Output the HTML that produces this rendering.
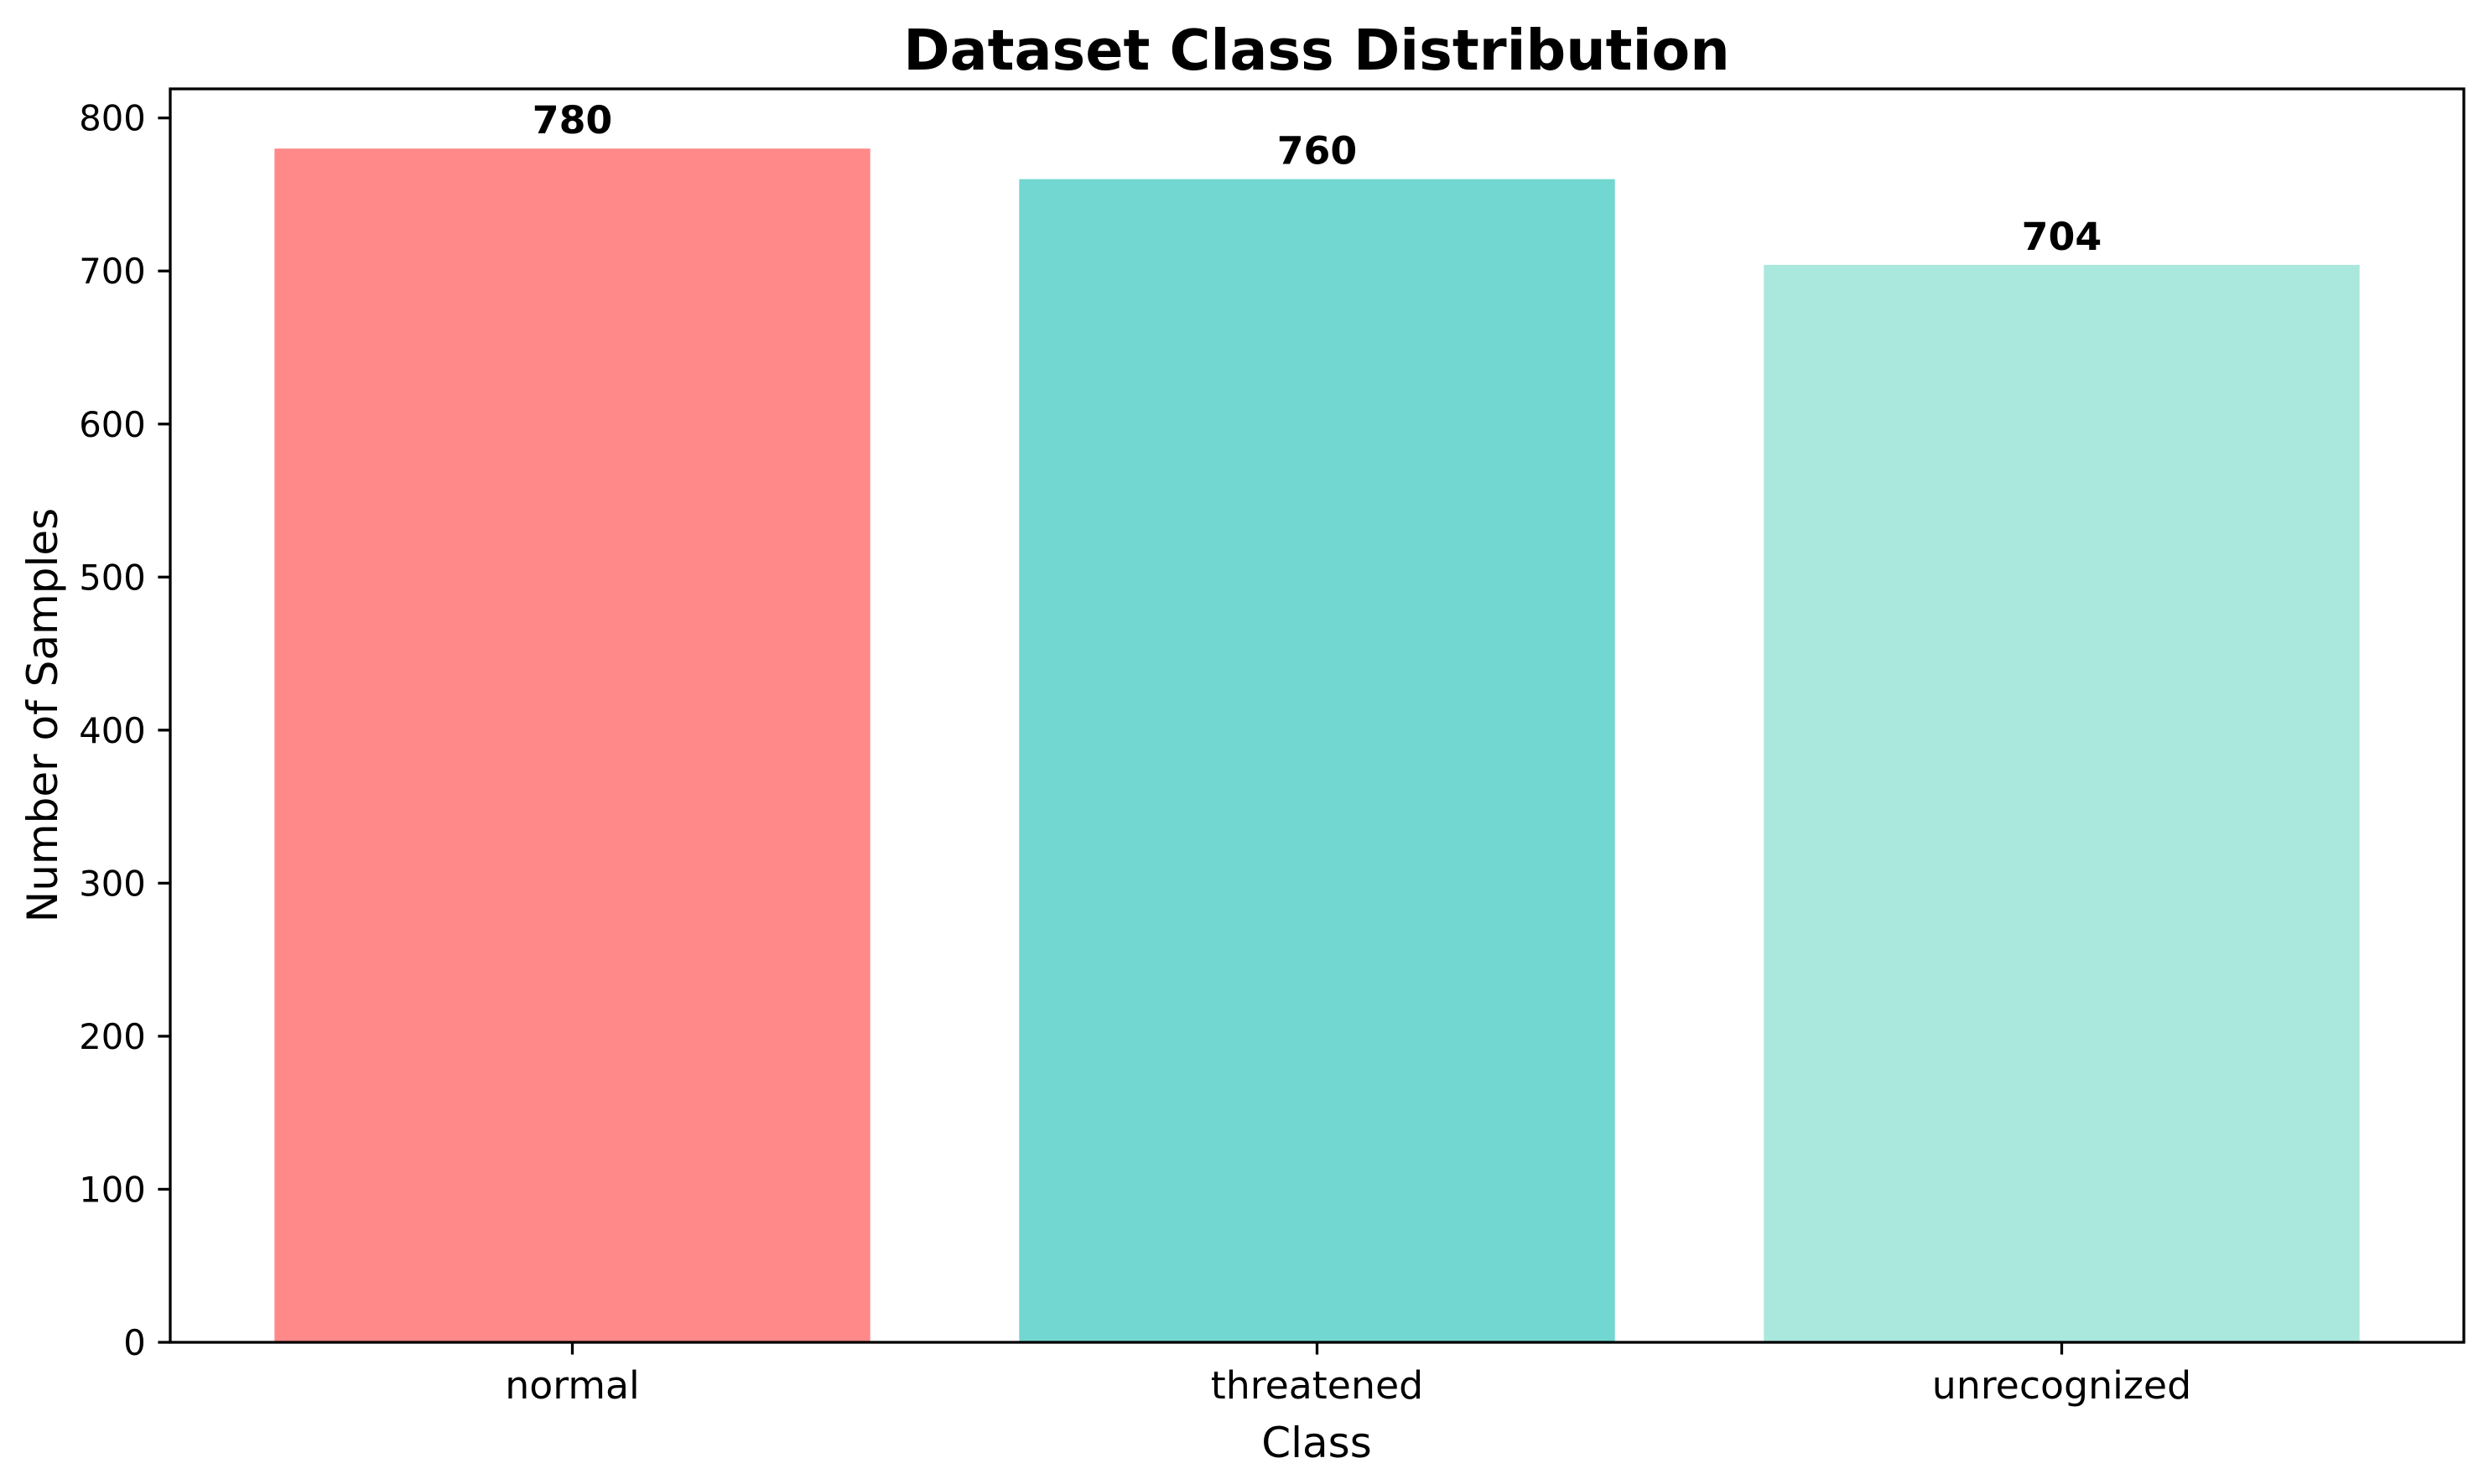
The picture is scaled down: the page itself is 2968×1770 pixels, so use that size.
<!DOCTYPE html>
<html><head><meta charset="utf-8"><style>
html,body{margin:0;padding:0;background:#fff;}
svg{display:block;}
text{font-family:"DejaVu Sans","Liberation Sans",sans-serif;fill:#000;}
</style></head><body>
<svg id="chart" width="2968" height="1770" viewBox="0 0 2968 1770" xmlns="http://www.w3.org/2000/svg">
<rect width="2968" height="1770" fill="#fff"/>
<text x="1570" y="83" font-size="66.7" font-weight="bold" text-anchor="middle">Dataset Class Distribution</text>
<g id="bars"></g>
<g id="yticks"></g>
<g id="xticks"></g>
<rect x="203" y="106" width="2735" height="1495" fill="none" stroke="#000" stroke-width="3.3"/>
<text x="1570" y="1738" font-size="50" text-anchor="middle">Class</text>
<text x="0" y="0" font-size="50" text-anchor="middle" transform="translate(68,853) rotate(-90)">Number of Samples</text>
</svg>
<script>
const categories = ["normal", "threatened", "unrecognized"];
const counts = [780, 760, 704];
const barColors = ["#FF8989", "#71D7D0", "#AAE7DC"];
const yTicks = [0, 100, 200, 300, 400, 500, 600, 700, 800];

const NS = "http://www.w3.org/2000/svg";
const L = 203, R = 2938, T = 106, B = 1601;
const xMin = -0.54, xMax = categories.length - 1 + 0.54;
const yMax = Math.max(...counts) * 1.05;
function xs(v){ return L + (v - xMin) / (xMax - xMin) * (R - L); }
function ys(v){ return B - v / yMax * (B - T); }
function mk(tag, attrs, parent){
  const e = document.createElementNS(NS, tag);
  for (const k in attrs) e.setAttribute(k, attrs[k]);
  parent.appendChild(e);
  return e;
}
const gb = document.getElementById("bars");
const gy = document.getElementById("yticks");
const gx = document.getElementById("xticks");

categories.forEach((c, i) => {
  const x0 = xs(i - 0.4), x1 = xs(i + 0.4);
  const r = mk("rect", {x: x0, y: ys(counts[i]), width: x1 - x0, height: ys(0) - ys(counts[i]), fill: barColors[i]}, gb);
  
  
  const t = mk("text", {x: xs(i), y: ys(counts[i]) - 18, "font-size": 45.8, "font-weight": "bold", "text-anchor": "middle"}, gb);
  t.textContent = counts[i];
  
  
  const tk = mk("line", {x1: xs(i), x2: xs(i), y1: B, y2: B + 14.6, stroke: "#000", "stroke-width": 3.3}, gx);
  
  
  const tl = mk("text", {x: xs(i), y: 1668, "font-size": 45.8, "text-anchor": "middle"}, gx);
  tl.textContent = c;
  
  
});

yTicks.forEach(v => {
  const y = ys(v);
  const tk = mk("line", {x1: L - 14.6, x2: L, y1: y, y2: y, stroke: "#000", "stroke-width": 3.3}, gy);
  
  
  const tl = mk("text", {x: L - 14.6 - 14.6, y: y + 15, "font-size": 41.7, "text-anchor": "end"}, gy);
  tl.textContent = v;
  
  
});
</script>
</body></html>
